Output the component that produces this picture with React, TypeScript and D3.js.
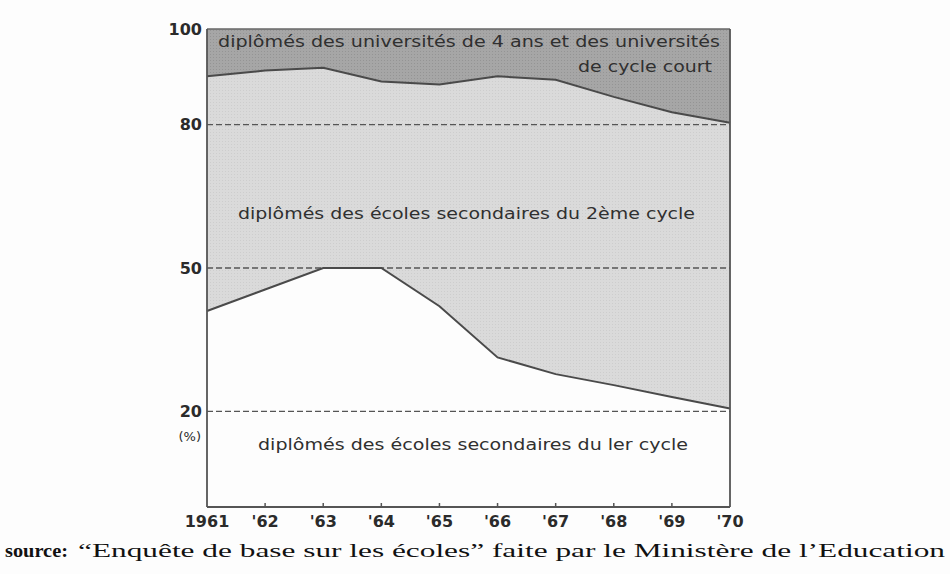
import React from 'react';
import * as d3 from 'd3';

const years = [1961, 1962, 1963, 1964, 1965, 1966, 1967, 1968, 1969, 1970];
const yearLabels = ['1961', "'62", "'63", "'64", "'65", "'66", "'67", "'68", "'69", "'70"];
// cumulative share (%) of 1er cycle graduates (bottom band)
const firstCycle = [41, 45.5, 50, 50, 42, 31.3, 27.8, 25.5, 23, 20.6];
// cumulative share (%) up to 2ème cycle graduates (top of middle band)
const secondCycleTop = [90.1, 91.3, 91.9, 89.0, 88.4, 90.1, 89.4, 85.8, 82.6, 80.4];
const yTickValues = [100, 80, 50, 20];
const gridValues = [80, 50, 20];

const W = 950;
const H = 574;
const left = 207;
const right = 730;
const top = 29;
const bottom = 507;

export default function App() {
  const x = d3.scaleLinear().domain([1961, 1970]).range([left, right]);
  const y = d3.scaleLinear().domain([0, 100]).range([bottom, top]);

  const idx = years.map((_, i) => i);
  const areaTop = d3
    .area<number>()
    .x((i) => x(years[i]))
    .y0((i) => y(secondCycleTop[i]))
    .y1(() => y(100));
  const areaMid = d3
    .area<number>()
    .x((i) => x(years[i]))
    .y0((i) => y(firstCycle[i]))
    .y1((i) => y(secondCycleTop[i]));
  const lineTop = d3
    .line<number>()
    .x((i) => x(years[i]))
    .y((i) => y(secondCycleTop[i]));
  const lineBot = d3
    .line<number>()
    .x((i) => x(years[i]))
    .y((i) => y(firstCycle[i]));

  const sans = 'DejaVu Sans, Verdana, sans-serif';
  const serif = 'Liberation Serif, Times New Roman, serif';
  const ink = '#2b2b2b';
  const annot = '#303030';

  return (
    <svg
      width={W}
      height={H}
      viewBox={`0 0 ${W} ${H}`}
      style={{ position: 'absolute', left: 0, top: 0, background: '#fdfdfd' }}
    >
      <defs>
        <pattern id="dotsDark" width="3" height="3" patternUnits="userSpaceOnUse">
          <rect width="3" height="3" fill="#a6a6a6" />
          <rect width="1" height="1" fill="#949494" />
        </pattern>
        <pattern id="dotsLight" width="3" height="3" patternUnits="userSpaceOnUse">
          <rect width="3" height="3" fill="#dadada" />
          <rect width="1" height="1" fill="#cdcdcd" />
        </pattern>
      </defs>

      <path d={areaTop(idx) || ''} fill="url(#dotsDark)" />
      <path d={areaMid(idx) || ''} fill="url(#dotsLight)" />

      {gridValues.map((v) => (
        <line
          key={v}
          x1={left}
          x2={right}
          y1={y(v)}
          y2={y(v)}
          stroke="#555"
          strokeWidth={1.4}
          strokeDasharray="6,3"
        />
      ))}

      <path d={lineTop(idx) || ''} fill="none" stroke="#4a4a4a" strokeWidth={2} />
      <path d={lineBot(idx) || ''} fill="none" stroke="#4a4a4a" strokeWidth={2} />

      {/* frame */}
      <line x1={left} x2={right} y1={y(100)} y2={y(100)} stroke="#666" strokeWidth={1.5} />
      <line x1={left} x2={left} y1={y(100)} y2={y(0)} stroke="#555" strokeWidth={1.8} />
      <line x1={right} x2={right} y1={y(100)} y2={y(0)} stroke="#555" strokeWidth={1.8} />
      <line x1={left} x2={right} y1={y(0)} y2={y(0)} stroke="#555" strokeWidth={1.8} />

      {/* x ticks */}
      {years.slice(1, -1).map((yr) => (
        <line key={yr} x1={x(yr)} x2={x(yr)} y1={y(0)} y2={y(0) - 4} stroke="#555" strokeWidth={1.5} />
      ))}

      {/* y labels */}
      {yTickValues.map((v) => (
        <text
          key={v}
          x={left - 5}
          y={y(v)}
          dy="0.36em"
          textAnchor="end"
          fontFamily={sans}
          fontWeight="bold"
          fontSize={16}
          fill={ink}
        >
          {v}
        </text>
      ))}
      <text x={left - 6} y={441} textAnchor="end" fontFamily={sans} fontSize={13} fill={ink}>
        (%)
      </text>

      {/* x labels */}
      {years.map((yr, i) => (
        <text
          key={yr}
          x={x(yr)}
          y={527}
          textAnchor="middle"
          fontFamily={sans}
          fontWeight="bold"
          fontSize={16}
          fill={ink}
        >
          {yearLabels[i]}
        </text>
      ))}

      {/* band annotations */}
      <text x={218} y={47} fontFamily={sans} fontSize={15} fill={annot} textLength={502} lengthAdjust="spacingAndGlyphs">
        diplômés des universités de 4 ans et des universités
      </text>
      <text x={578} y={72} fontFamily={sans} fontSize={15} fill={annot} textLength={134} lengthAdjust="spacingAndGlyphs">
        de cycle court
      </text>
      <text x={238} y={219} fontFamily={sans} fontSize={15} fill={annot} textLength={457} lengthAdjust="spacingAndGlyphs">
        diplômés des écoles secondaires du 2ème cycle
      </text>
      <text x={258} y={450} fontFamily={sans} fontSize={15} fill={annot} textLength={430} lengthAdjust="spacingAndGlyphs">
        diplômés des écoles secondaires du ler cycle
      </text>

      {/* source */}
      <text x={5} y={557} fontFamily={serif} fontWeight="bold" fontSize={18} fill="#111" textLength={63} lengthAdjust="spacingAndGlyphs">
        source:
      </text>
      <text x={78} y={557} fontFamily={serif} fontSize={18} fill="#111" textLength={867} lengthAdjust="spacingAndGlyphs">
        “Enquête de base sur les écoles” faite par le Ministère de l’Education
      </text>
    </svg>
  );
}
